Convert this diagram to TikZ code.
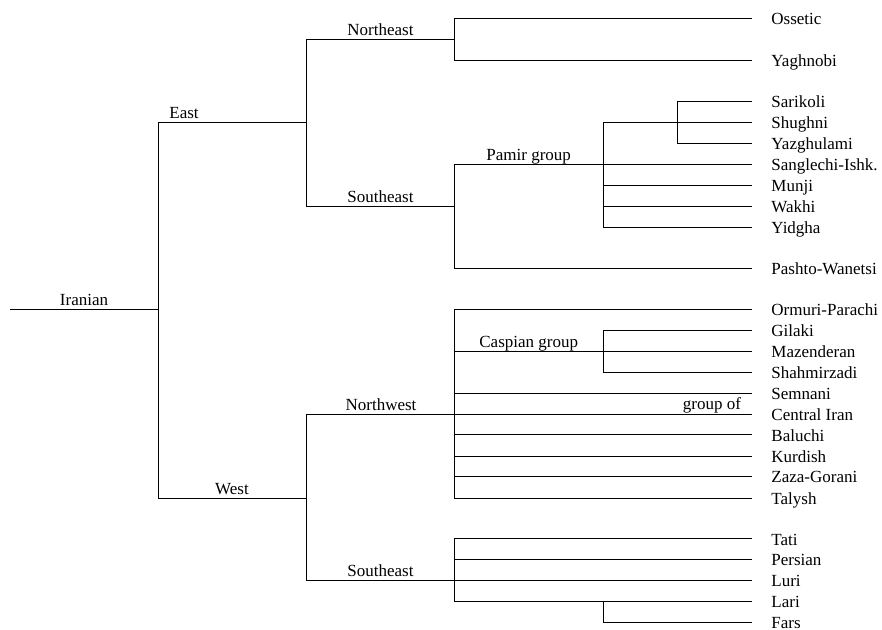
\documentclass[tikz,border=0pt]{standalone}
\usepackage{fontspec}
\setmainfont{Liberation Serif}
\begin{document}
\begin{tikzpicture}[x=1pt,y=-1pt,line width=0.8pt,
  leaf/.style={anchor=west,inner xsep=19pt,inner ysep=0pt,text height=16pt,text depth=3pt,font=\fontsize{17}{20}\selectfont},
  lbl/.style={anchor=base,inner sep=0pt,font=\fontsize{17}{20}\selectfont}]
\useasboundingbox (0,0) rectangle (882,629);
% junctions
\coordinate (root) at (10,309.3);
\coordinate (iran) at (158,309.3);
\coordinate (east) at (306,122.3);
\coordinate (west) at (306,498.3);
\coordinate (ne) at (454,39.3);
\coordinate (seE) at (454,206);
\coordinate (pamir) at (603.3,164.3);
\coordinate (shug) at (677.3,122.3);
\coordinate (nw) at (454,414.3);
\coordinate (casp) at (603.3,351.3);
\coordinate (seW) at (454,580.3);
\coordinate (lari) at (603.3,601.3);
% leaves
\node[leaf] (oss) at (752,18.3) {Ossetic};
\node[leaf] (yag) at (752,60.3) {Yaghnobi};
\node[leaf] (sar) at (752,101) {Sarikoli};
\node[leaf] (shu) at (752,122.3) {Shughni};
\node[leaf] (yaz) at (752,143.3) {Yazghulami};
\node[leaf] (san) at (752,164.3) {Sanglechi-Ishk.};
\node[leaf] (mun) at (752,185.3) {Munji};
\node[leaf] (wak) at (752,206.3) {Wakhi};
\node[leaf] (yid) at (752,227.3) {Yidgha};
\node[leaf] (pas) at (752,268) {Pashto-Wanetsi};
\node[leaf] (orm) at (752,309.3) {Ormuri-Parachi};
\node[leaf] (gil) at (752,330.3) {Gilaki};
\node[leaf] (maz) at (752,351.3) {Mazenderan};
\node[leaf] (sha) at (752,372.3) {Shahmirzadi};
\node[leaf] (sem) at (752,393.3) {Semnani};
\node[leaf] (cen) at (752,414.3) {Central Iran};
\node[leaf] (bal) at (752,434.7) {Baluchi};
\node[leaf] (kur) at (752,456.3) {Kurdish};
\node[leaf] (zaz) at (752,476.3) {Zaza-Gorani};
\node[leaf] (tal) at (752,498.3) {Talysh};
\node[leaf] (tat) at (752,538.7) {Tati};
\node[leaf] (per) at (752,559.3) {Persian};
\node[leaf] (lur) at (752,580.3) {Luri};
\node[leaf] (lar) at (752,601.3) {Lari};
\node[leaf] (far) at (752,622) {Fars};
% branch labels
\node[lbl] (lIran) at (84,305.3) {Iranian};
\node[lbl] (lEast) at (184,118.3) {East};
\node[lbl] (lWest) at (232,494.3) {West};
\node[lbl] (lNE) at (380.5,35.3) {Northeast};
\node[lbl] (lSEe) at (380.5,202) {Southeast};
\node[lbl] (lPam) at (528.7,160.3) {Pamir group};
\node[lbl] (lNW) at (381,410.3) {Northwest};
\node[lbl] (lCas) at (528.7,347.3) {Caspian group};
\node[lbl] (lGro) at (712,409.3) {group of};
\node[lbl] (lSEw) at (380.5,576.3) {Southeast};
% connectors
\draw (root) -- (iran);
\draw (iran) |- (east);
\draw (iran) |- (west);
\draw (east) |- (ne);
\draw (east) |- (seE);
\draw (ne) |- (oss.west);
\draw (ne) |- (yag.west);
\draw (seE) |- (pamir);
\draw (seE) |- (pas.west);
\draw (pamir) |- (shug);
\draw (pamir) -- (san.west);
\draw (pamir) |- (mun.west);
\draw (pamir) |- (wak.west);
\draw (pamir) |- (yid.west);
\draw (shug) |- (sar.west);
\draw (shug) -- (shu.west);
\draw (shug) |- (yaz.west);
\draw (west) |- (nw);
\draw (west) |- (seW);
\draw (nw) |- (orm.west);
\draw (nw) |- (casp);
\draw (nw) |- (sem.west);
\draw (nw) -- (cen.west);
\draw (nw) |- (bal.west);
\draw (nw) |- (kur.west);
\draw (nw) |- (zaz.west);
\draw (nw) |- (tal.west);
\draw (casp) |- (gil.west);
\draw (casp) -- (maz.west);
\draw (casp) |- (sha.west);
\draw (seW) |- (tat.west);
\draw (seW) |- (per.west);
\draw (seW) -- (lur.west);
\draw (seW) |- (lari);
\draw (lari) -- (lar.west);
\draw (lari) |- (far.west);
\end{tikzpicture}
\end{document}
